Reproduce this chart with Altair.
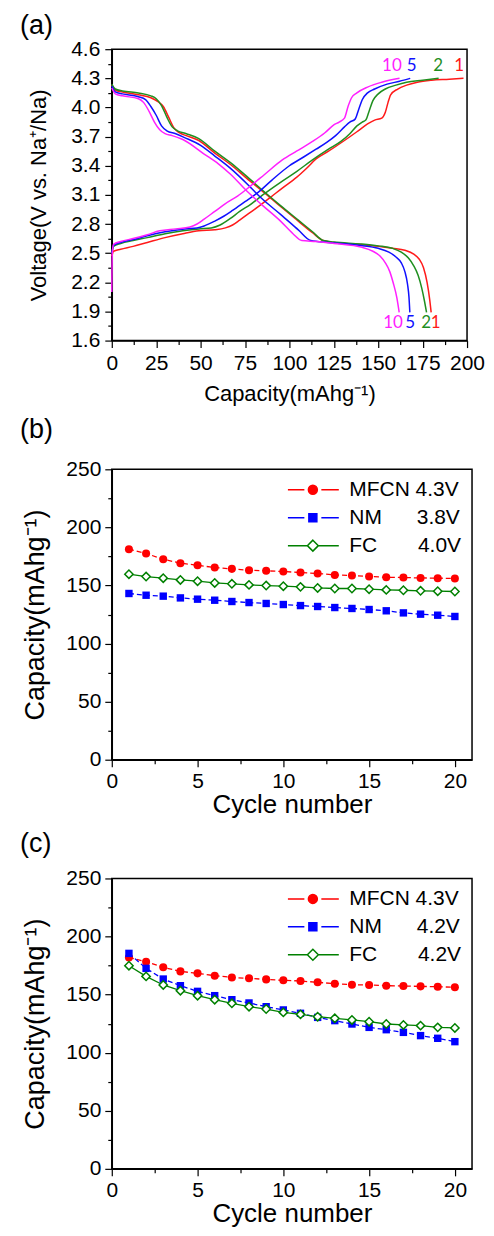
import altair as alt
import pandas as pd

# ---------------- panel (a): charge / discharge curves ----------------
cycle_names = ["1", "2", "5", "10"]
cycle_colors = ["#ff1a1a", "#1f8f1f", "#1010ff", "#ff20ff"]

dis_cap_1 = [0, 2, 6, 15, 22, 26, 29, 32, 35, 38, 42, 49, 58, 67, 76, 86, 95, 105, 113, 119, 125, 140, 150, 158, 165, 170, 173, 175.5, 177.5, 179, 179.8]
dis_v_1 = [4.23, 4.18, 4.16, 4.13, 4.10, 4.06, 4.01, 3.90, 3.79, 3.74, 3.71, 3.66, 3.53, 3.41, 3.27, 3.12, 2.98, 2.83, 2.71, 2.63, 2.61, 2.59, 2.57, 2.55, 2.53, 2.49, 2.44, 2.35, 2.20, 2.02, 1.89]
chg_cap_1 = [0, 1, 5, 12, 20, 30, 40, 49, 58, 64, 68, 72, 78, 84, 89, 96, 104, 110, 115, 122, 131, 138, 144, 148, 152, 154, 155.5, 157, 161, 166, 172, 180, 190, 198]
chg_v_1 = [2.47, 2.52, 2.54, 2.57, 2.61, 2.66, 2.70, 2.73, 2.74, 2.76, 2.79, 2.84, 2.92, 3.00, 3.07, 3.17, 3.28, 3.38, 3.47, 3.55, 3.66, 3.75, 3.83, 3.87, 3.89, 3.95, 4.05, 4.13, 4.19, 4.23, 4.26, 4.28, 4.29, 4.30]

dis_cap_2 = [0, 2, 6, 15, 22, 25, 28, 31, 34, 37, 42, 49, 58, 67, 76, 86, 95, 105, 113, 119, 125, 140, 150, 158, 163, 167, 170, 172.5, 174.5, 176, 177.2]
dis_v_2 = [4.24, 4.19, 4.17, 4.15, 4.12, 4.09, 4.02, 3.90, 3.80, 3.76, 3.73, 3.68, 3.55, 3.43, 3.29, 3.13, 2.99, 2.84, 2.72, 2.63, 2.615, 2.595, 2.575, 2.55, 2.51, 2.45, 2.37, 2.27, 2.14, 2.01, 1.89]
chg_cap_2 = [0, 1, 5, 12, 20, 30, 40, 49, 56, 61, 67, 72, 78, 85, 95, 104, 113, 122, 129, 134, 138, 141, 143, 145, 147, 150, 154, 160, 166, 175, 184]
chg_v_2 = [2.50, 2.57, 2.60, 2.63, 2.66, 2.70, 2.73, 2.75, 2.76, 2.79, 2.86, 2.93, 3.00, 3.10, 3.23, 3.34, 3.46, 3.57, 3.65, 3.73, 3.81, 3.85, 3.87, 3.97, 4.07, 4.14, 4.19, 4.23, 4.26, 4.28, 4.30]

dis_cap_5 = [0, 2, 6, 15, 19, 22, 25, 28, 31, 36, 41, 50, 58, 67, 78, 84, 95, 105, 112, 122, 140, 150, 156, 160, 163, 165, 166.5, 167.3, 167.8]
dis_v_5 = [4.22, 4.16, 4.14, 4.11, 4.08, 4.01, 3.92, 3.81, 3.76, 3.73, 3.69, 3.61, 3.50, 3.37, 3.18, 3.07, 2.90, 2.74, 2.63, 2.61, 2.58, 2.55, 2.51, 2.46, 2.40, 2.31, 2.18, 2.05, 1.89]
chg_cap_5 = [0, 1, 5, 12, 20, 30, 41, 48, 52, 58, 63, 68, 75, 82, 90, 100, 108, 115, 121, 126, 131, 134, 137, 139, 141, 144, 148, 155, 162, 168]
chg_v_5 = [2.50, 2.58, 2.61, 2.64, 2.68, 2.72, 2.75, 2.76, 2.78, 2.83, 2.88, 2.94, 3.03, 3.12, 3.25, 3.40, 3.49, 3.57, 3.64, 3.71, 3.80, 3.85, 3.88, 3.98, 4.08, 4.15, 4.19, 4.24, 4.27, 4.30]

dis_cap_10 = [0, 2, 6, 15, 18, 21, 24, 27, 30, 34, 40, 52, 60, 67, 76, 85, 95, 102, 107, 115, 125, 141, 147, 151, 154, 156.5, 158.5, 160.5, 161.8]
dis_v_10 = [4.20, 4.14, 4.12, 4.09, 4.05, 3.96, 3.85, 3.77, 3.73, 3.71, 3.67, 3.52, 3.42, 3.31, 3.14, 2.99, 2.83, 2.70, 2.63, 2.62, 2.60, 2.56, 2.52, 2.47, 2.40, 2.31, 2.19, 2.04, 1.89]
chg_cap_10 = [0, 0.3, 1, 5, 12, 20, 27, 36, 44, 48, 52, 58, 64, 71, 78, 86, 96, 104, 113, 120, 125, 128, 131, 133, 135, 138, 144, 152, 162]
chg_v_10 = [2.10, 2.50, 2.59, 2.62, 2.65, 2.69, 2.73, 2.75, 2.77, 2.80, 2.85, 2.93, 3.01, 3.09, 3.19, 3.31, 3.46, 3.55, 3.65, 3.74, 3.82, 3.85, 3.89, 4.01, 4.10, 4.15, 4.21, 4.26, 4.30]

top_label_text = ["10", "5", "2", "1"]
top_label_cap = [157.7, 168.8, 183.8, 195.6]
top_label_v = [4.43, 4.43, 4.43, 4.43]
bot_label_text = ["10", "5", "2", "1"]
bot_label_cap = [158.3, 168.0, 177.0, 182.3]
bot_label_v = [1.78, 1.78, 1.78, 1.78]

a_x_major = [0, 25, 50, 75, 100, 125, 150, 175, 200]
a_x_minor = [12.5, 37.5, 62.5, 87.5, 112.5, 137.5, 162.5, 187.5]
a_y_major = [1.6, 1.9, 2.2, 2.5, 2.8, 3.1, 3.4, 3.7, 4.0, 4.3, 4.6]
a_y_minor = [1.75, 2.05, 2.35, 2.65, 2.95, 3.25, 3.55, 3.85, 4.15, 4.45]

# ---------------- panels (b), (c): cycling ----------------
cycles = list(range(1, 21))
series_names = ["MFCN", "NM", "FC"]
b_mfcn = [181.2, 177.5, 172.6, 169.2, 167.4, 165.4, 164.3, 163.1, 162.6, 162.0, 161.1, 160.3, 159.1, 158.5, 157.7, 157.1, 156.8, 156.5, 156.3, 156.0]
b_nm = [143.1, 141.6, 140.8, 139.3, 138.2, 137.3, 136.2, 135.3, 134.5, 133.6, 132.7, 131.9, 131.0, 130.2, 129.3, 128.2, 126.4, 125.3, 124.4, 123.3]
b_fc = [159.7, 157.7, 156.3, 154.8, 153.7, 152.2, 151.4, 150.5, 149.9, 149.4, 148.8, 147.9, 147.4, 147.4, 146.8, 146.2, 145.9, 145.4, 145.1, 144.8]
b_legend = ["MFCN 4.3V", "NM\u00a0\u00a0\u00a0\u00a0\u00a0\u00a03.8V", "FC\u00a0\u00a0\u00a0\u00a0\u00a0\u00a0\u00a04.0V"]

c_mfcn = [182.0, 178.3, 173.5, 170.0, 168.3, 166.3, 164.8, 164.0, 163.1, 162.3, 161.7, 160.6, 159.4, 158.5, 158.3, 157.7, 157.4, 157.1, 156.8, 156.3]
c_nm = [185.5, 172.6, 163.4, 157.7, 152.8, 149.1, 145.6, 142.8, 139.6, 136.8, 133.9, 130.4, 127.6, 124.7, 121.8, 119.8, 117.5, 114.7, 112.4, 109.5]
c_fc = [174.9, 165.7, 158.3, 153.4, 149.1, 145.6, 142.5, 139.6, 137.6, 134.7, 133.0, 131.0, 129.6, 128.2, 126.7, 124.7, 123.9, 123.3, 121.8, 121.3]
c_legend = ["MFCN 4.3V", "NM\u00a0\u00a0\u00a0\u00a0\u00a0\u00a04.2V", "FC\u00a0\u00a0\u00a0\u00a0\u00a0\u00a0\u00a04.2V"]

bc_x_major = [0, 5, 10, 15, 20]
bc_x_minor = [2.5, 7.5, 12.5, 17.5]
bc_y_major = [0, 50, 100, 150, 200, 250]
bc_y_minor = [25, 75, 125, 175, 225]

RED, BLUE, GREEN = "#ff0000", "#0000ff", "#008000"
FONT = "Liberation Sans"

# ---------------- build panel (a) ----------------
rows = []
curves = [
    ("1", dis_cap_1, dis_v_1, chg_cap_1, chg_v_1),
    ("2", dis_cap_2, dis_v_2, chg_cap_2, chg_v_2),
    ("5", dis_cap_5, dis_v_5, chg_cap_5, chg_v_5),
    ("10", dis_cap_10, dis_v_10, chg_cap_10, chg_v_10),
]
for name, dc, dv, cc, cv in curves:
    for i, (x, y) in enumerate(zip(dc, dv)):
        rows.append({"cycle": name, "curve": name + "d", "idx": i, "cap": x, "V": y})
    for i, (x, y) in enumerate(zip(cc, cv)):
        rows.append({"cycle": name, "curve": name + "c", "idx": i, "cap": x, "V": y})
df_a = pd.DataFrame(rows)

lab_rows = []
for t, x, y in zip(top_label_text, top_label_cap, top_label_v):
    lab_rows.append({"cycle": t, "cap": x, "V": y, "text": t})
for t, x, y in zip(bot_label_text, bot_label_cap, bot_label_v):
    lab_rows.append({"cycle": t, "cap": x, "V": y, "text": t})
df_lab = pd.DataFrame(lab_rows)


def major_axis(orient, values, title, fmt, title_size, title_pad, label_pad=5):
    return alt.Axis(orient=orient, values=values, format=fmt, title=title, grid=False,
                    tickSize=7, tickWidth=1.2, tickColor="black",
                    domainColor="black", domainWidth=1.5,
                    labelFont=FONT, labelFontSize=21, labelColor="black",
                    labelPadding=label_pad, labelFlush=False, labelOverlap=False,
                    titleFont=FONT, titleFontSize=title_size, titleFontWeight="normal",
                    titleColor="black", titlePadding=title_pad)


def minor_axis(orient, values):
    return alt.Axis(orient=orient, values=values, title=None, grid=False, labels=False,
                    domain=False, tickSize=4, tickWidth=1.2, tickColor="black")


xa = alt.Scale(domain=[0, 200], nice=False)
ya = alt.Scale(domain=[1.6, 4.6], nice=False)
col_a = alt.Scale(domain=cycle_names, range=cycle_colors)

lines_a = alt.Chart(df_a).mark_line(interpolate="monotone", strokeWidth=1.5).encode(
    x=alt.X("cap:Q", scale=xa, axis=major_axis("bottom", a_x_major, "Capacity(mAhg⁻¹)", "d", 22, 10)),
    y=alt.Y("V:Q", scale=ya, axis=major_axis("left", a_y_major, "Voltage(V vs. Na⁺/Na)", ".1f", 22, 20)),
    color=alt.Color("cycle:N", scale=col_a, legend=None),
    detail="curve:N",
    order="idx:Q",
)
text_a = alt.Chart(df_lab).mark_text(font="Lato", fontSize=17, align="center", baseline="middle").encode(
    x=alt.X("cap:Q", scale=xa, axis=minor_axis("bottom", a_x_minor)),
    y=alt.Y("V:Q", scale=ya, axis=minor_axis("left", a_y_minor)),
    color=alt.Color("cycle:N", scale=col_a, legend=None),
    text="text:N",
)
panel_a = alt.layer(lines_a, text_a).resolve_axis(x="independent", y="independent").properties(
    width=356, height=292,
    title=alt.TitleParams("(a)", anchor="start", frame="group", font=FONT, fontSize=27,
                          fontWeight="normal", color="black", dx=-92, offset=-2),
)

# ---------------- build panels (b) and (c) ----------------
P_CIRCLE = "M-5,0H-1.7M1.7,0H5.2M0.9,0A0.9,0.9,0,1,1,-0.9,0A0.9,0.9,0,1,1,0.9,0Z"
P_SQUARE = "M-5,0H-1.7M1.7,0H5.2M-0.8,-0.8H0.8V0.8H-0.8Z"
P_DIAMOND = "M-5,0H-1.1M1.1,0H5.2M0,-1.1L1.1,0L0,1.1L-1.1,0Z"


def cycle_panel(mfcn, nm, fc, legend_labels, label, title_offset):
    df = pd.DataFrame({
        "cycle": cycles * 3,
        "cap": mfcn + nm + fc,
        "series": ["MFCN"] * 20 + ["NM"] * 20 + ["FC"] * 20,
    })
    xs = alt.Scale(domain=[0, 21], nice=False)
    ys = alt.Scale(domain=[0, 250], nice=False)
    base = alt.Chart(df)

    def enc(ax_x=None, ax_y=None):
        return dict(
            x=alt.X("cycle:Q", scale=xs, axis=ax_x),
            y=alt.Y("cap:Q", scale=ys, axis=ax_y),
        )

    l_m = base.transform_filter(alt.datum.series == "MFCN").mark_line(
        color=RED, strokeWidth=1.3, strokeDash=[5, 3]).encode(
        **enc(major_axis("bottom", bc_x_major, "Cycle number", "d", 26, 0, 4),
              major_axis("left", bc_y_major, "Capacity(mAhg⁻¹)", "d", 27, 16, 4)))
    l_n = base.transform_filter(alt.datum.series == "NM").mark_line(
        color=BLUE, strokeWidth=1.3, strokeDash=[5, 3]).encode(**enc(None, None))
    l_f = base.transform_filter(alt.datum.series == "FC").mark_line(
        color=GREEN, strokeWidth=1.3).encode(**enc(None, None))
    p_m = base.transform_filter(alt.datum.series == "MFCN").mark_point(
        shape="circle", filled=True, color=RED, size=65, opacity=1).encode(
        **enc(minor_axis("bottom", bc_x_minor), minor_axis("left", bc_y_minor)))
    p_n = base.transform_filter(alt.datum.series == "NM").mark_point(
        shape="square", filled=True, color=BLUE, size=55, opacity=1).encode(**enc(None, None))
    p_f = base.transform_filter(alt.datum.series == "FC").mark_point(
        shape="diamond", filled=False, fill="white", stroke=GREEN, strokeWidth=1.5,
        size=70, opacity=1).encode(**enc(None, None))

    leg = alt.Legend(title=None, orient="top-right", offset=10, padding=0,
                     labelFont=FONT, labelFontSize=21, labelColor="black",
                     symbolSize=100, symbolStrokeWidth=1.5, labelOffset=26,
                     rowPadding=6, symbolOpacity=1)
    legend_layer = base.transform_filter("false").transform_calculate(
        entry="datum.series").mark_point(opacity=1).encode(
        shape=alt.Shape("entry:N", scale=alt.Scale(domain=legend_labels,
                                                    range=[P_CIRCLE, P_SQUARE, P_DIAMOND]), legend=leg),
        stroke=alt.Stroke("entry:N", scale=alt.Scale(domain=legend_labels,
                                                      range=[RED, BLUE, GREEN]), legend=leg),
        fill=alt.Fill("entry:N", scale=alt.Scale(domain=legend_labels,
                                                  range=[RED, BLUE, "white"]), legend=leg),
    )
    return alt.layer(l_m, l_n, l_f, p_m, p_n, p_f, legend_layer).resolve_axis(
        x="independent", y="independent").properties(
        width=361, height=291,
        title=alt.TitleParams(label, anchor="start", frame="group", font=FONT, fontSize=27,
                              fontWeight="normal", color="black", dx=-92, offset=title_offset),
    )


panel_b = cycle_panel(b_mfcn, b_nm, b_fc, b_legend, "(b)", 14)
panel_c = cycle_panel(c_mfcn, c_nm, c_fc, c_legend, "(c)", 10)

chart = alt.vconcat(panel_a, panel_b, panel_c, spacing=10).resolve_scale(
    color="independent", shape="independent", stroke="independent", fill="independent"
).properties(
    padding={"left": 11, "top": 2, "right": 0, "bottom": 0}
).configure_view(stroke="black", strokeWidth=1.5)

chart.save("out.html", embed_options={"renderer": "svg", "actions": False})
